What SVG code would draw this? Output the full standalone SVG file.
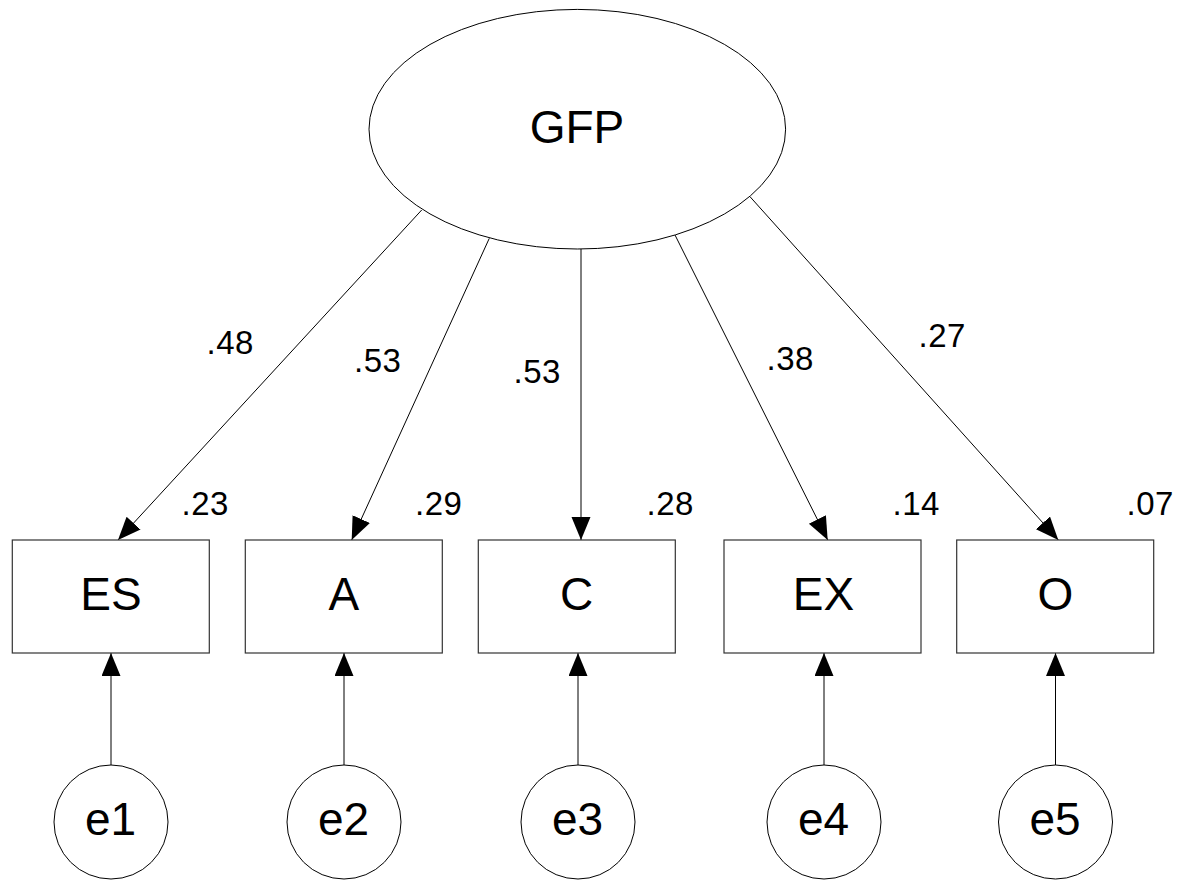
<svg xmlns="http://www.w3.org/2000/svg" width="1179" height="881" viewBox="0 0 1179 881">
  <style>
    .shape { fill: #ffffff; stroke: #000000; stroke-width: 1; }
    .box { fill: #ffffff; stroke: #333333; stroke-width: 1.2; }
    .edge { fill: none; stroke: #000000; stroke-width: 1; marker-end: url(#arrow); }
    .name { font-family: "Liberation Sans", Arial, sans-serif; font-size: 46px; fill: #000000; text-anchor: middle; }
    .coef { font-family: "Liberation Sans", Arial, sans-serif; font-size: 33px; fill: #000000; letter-spacing: 0.5px; }
  </style>
  <defs>
    <marker id="arrow" markerUnits="userSpaceOnUse" markerWidth="24" markerHeight="20" refX="23" refY="9.5" orient="auto">
      <path d="M0,0 L23,9.5 L0,19 Z" fill="#000000"/>
    </marker>
  </defs>

  <rect width="1179" height="881" fill="#ffffff"/>

  <!-- connectors -->
  <g id="connectors">
    <line class="edge" x1="421.7" y1="210" x2="118" y2="540"/>
    <line class="edge" x1="489.3" y1="238.3" x2="351.7" y2="540"/>
    <line class="edge" x1="581" y1="249" x2="581" y2="540"/>
    <line class="edge" x1="675" y1="235" x2="827.7" y2="540"/>
    <line class="edge" x1="750" y1="196.7" x2="1058.3" y2="540"/>

    <line class="edge" x1="111" y1="765" x2="111" y2="653"/>
    <line class="edge" x1="344" y1="765" x2="344" y2="653"/>
    <line class="edge" x1="578" y1="765" x2="578" y2="653"/>
    <line class="edge" x1="824" y1="765" x2="824" y2="653"/>
    <line class="edge" x1="1055.5" y1="765" x2="1055.5" y2="653"/>
  </g>

  <!-- loadings -->
  <g id="loadings">
    <text class="coef" x="206.5" y="354">.48</text>
    <text class="coef" x="354" y="371.5">.53</text>
    <text class="coef" x="513.5" y="382.5">.53</text>
    <text class="coef" x="766.5" y="370">.38</text>
    <text class="coef" x="918.5" y="347">.27</text>
  </g>

  <!-- latent factor -->
  <g id="GFP">
    <ellipse class="shape" cx="577.3" cy="129.2" rx="208.3" ry="119.8"/>
    <text class="name" x="577" y="142.5">GFP</text>
  </g>

  <!-- observed indicators -->
  <g id="ES">
    <rect class="box" x="12.3" y="540" width="197" height="113"/>
    <text class="name" x="111" y="610">ES</text>
    <text class="coef" x="181.5" y="515">.23</text>
  </g>
  <g id="A">
    <rect class="box" x="245.3" y="540" width="197" height="113"/>
    <text class="name" x="343.8" y="610">A</text>
    <text class="coef" x="415" y="515">.29</text>
  </g>
  <g id="C">
    <rect class="box" x="478.3" y="540" width="197" height="113"/>
    <text class="name" x="576.5" y="610">C</text>
    <text class="coef" x="646.5" y="515">.28</text>
  </g>
  <g id="EX">
    <rect class="box" x="724" y="540" width="197" height="113"/>
    <text class="name" x="823.5" y="610">EX</text>
    <text class="coef" x="892.5" y="515">.14</text>
  </g>
  <g id="O">
    <rect class="box" x="956.7" y="540" width="197" height="113"/>
    <text class="name" x="1055.5" y="610">O</text>
    <text class="coef" x="1126.5" y="515">.07</text>
  </g>

  <!-- error terms -->
  <g id="e1">
    <circle class="shape" cx="111" cy="822" r="57"/>
    <text class="name" x="110.5" y="835">e1</text>
  </g>
  <g id="e2">
    <circle class="shape" cx="344" cy="822" r="57"/>
    <text class="name" x="343.5" y="835">e2</text>
  </g>
  <g id="e3">
    <circle class="shape" cx="578" cy="822" r="57"/>
    <text class="name" x="577.5" y="835">e3</text>
  </g>
  <g id="e4">
    <circle class="shape" cx="824" cy="822" r="57"/>
    <text class="name" x="823.5" y="835">e4</text>
  </g>
  <g id="e5">
    <circle class="shape" cx="1055.5" cy="822" r="57"/>
    <text class="name" x="1055" y="835">e5</text>
  </g>
</svg>
